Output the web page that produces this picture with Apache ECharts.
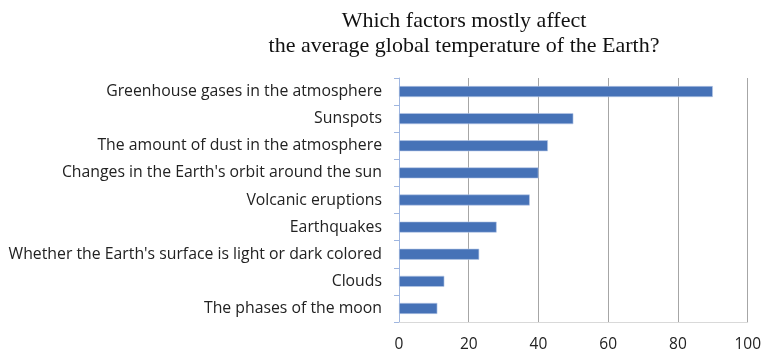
<!DOCTYPE html>
<html>
<head>
<meta charset="utf-8">
<script src="https://cdn.jsdelivr.net/npm/echarts@6/dist/echarts.min.js"></script>
<style>
  html, body { margin: 0; padding: 0; background: #fff; }
  #chart { width: 764px; height: 353px; }
</style>
</head>
<body>
<div id="chart"></div>
<script>
// Survey answers, top to bottom
const factors = [
  "Greenhouse gases in the atmosphere",
  "Sunspots",
  "The amount of dust in the atmosphere",
  "Changes in the Earth's orbit around the sun",
  "Volcanic eruptions",
  "Earthquakes",
  "Whether the Earth's surface is light or dark colored",
  "Clouds",
  "The phases of the moon"
];
const shares = [90, 50, 42.7, 40, 37.5, 28, 23, 13, 11];
const xTicks = [0, 20, 40, 60, 80, 100];

const chart = echarts.init(document.getElementById('chart'));
chart.setOption({
  animation: false,
  title: {
    text: 'Which factors mostly affect\nthe average global temperature of the Earth?',
    left: 459,
    textAlign: 'center',
    top: 4,
    textStyle: {
      fontFamily: 'Liberation Serif',
      fontSize: 22,
      fontWeight: 'normal',
      color: '#111',
      lineHeight: 25
    }
  },
  grid: { left: 399, right: 15, top: 78, bottom: 31, containLabel: false },
  xAxis: {
    type: 'value',
    min: xTicks[0],
    max: xTicks[xTicks.length - 1],
    interval: 20,
    axisLine: { show: true, lineStyle: { color: '#d9d9d9' } },
    axisTick: { show: false },
    splitLine: { lineStyle: { color: '#a6a6a6', width: 1 } },
    axisLabel: {
      margin: 15,
      fontFamily: 'Open Sans',
      fontSize: 15.5,
      color: '#222'
    }
  },
  yAxis: {
    type: 'category',
    inverse: true,
    data: factors,
    axisLine: { show: true, lineStyle: { color: '#9fb6e0' } },
    axisTick: { show: true, length: 5, lineStyle: { color: '#9fb6e0' } },
    axisLabel: {
      margin: 17,
      fontFamily: 'Open Sans',
      fontSize: 15.8,
      color: '#222'
    }
  },
  series: [{
    type: 'bar',
    data: shares,
    barWidth: 11,
    itemStyle: { color: '#4672b7', borderColor: '#b9c9e8', borderWidth: 0.6 }
  }]
});
</script>
</body>
</html>
